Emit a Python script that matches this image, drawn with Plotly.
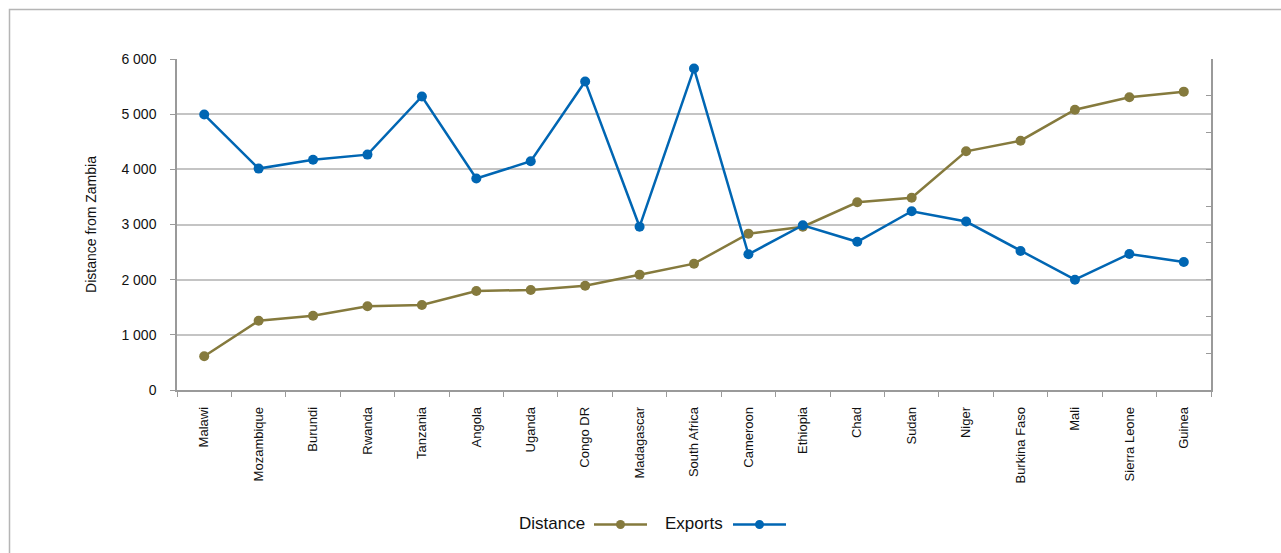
import plotly.graph_objects as go

# Countries ordered by distance from Zambia
countries = ["Malawi", "Mozambique", "Burundi", "Rwanda", "Tanzania", "Angola",
             "Uganda", "Congo DR", "Madagascar", "South Africa", "Cameroon",
             "Ethiopia", "Chad", "Sudan", "Niger", "Burkina Faso", "Mali",
             "Sierra Leone", "Guinea"]

# Distance from Zambia (km), left axis
distance = [611, 1256, 1347, 1517, 1541, 1795, 1813, 1891, 2091, 2290,
            2834, 2960, 3402, 3486, 4327, 4519, 5081, 5306, 5408]

# Exports (secondary axis, unlabeled scale 0-9)
exports = [7.49, 6.02, 6.26, 6.40, 7.98, 5.75, 6.22, 8.39, 4.44, 8.74,
           3.69, 4.48, 4.03, 4.86, 4.58, 3.78, 3.00, 3.70, 3.48]

y_ticks = [0, 1000, 2000, 3000, 4000, 5000, 6000]
y_tick_text = ["0", "1 000", "2 000", "3 000", "4 000", "5 000", "6 000"]

OLIVE = "#857a3d"
BLUE = "#0066b3"
GRID = "#c4c4c4"
AXIS = "#9a9a9a"
FONT = "Liberation Sans, Arial, sans-serif"

fig = go.Figure()
fig.add_trace(go.Scatter(
    x=countries, y=distance, name="Distance", mode="lines+markers",
    line=dict(color=OLIVE, width=2.5), marker=dict(color=OLIVE, size=10),
    showlegend=False, cliponaxis=False,
))
fig.add_trace(go.Scatter(
    x=countries, y=exports, name="Exports", mode="lines+markers", yaxis="y2",
    line=dict(color=BLUE, width=2.5), marker=dict(color=BLUE, size=10),
    showlegend=False, cliponaxis=False,
))

L, R, T, B = 177, 70, 59, 163
W, H = 1281, 553
pw, ph = W - L - R, H - T - B


def px(x):
    return (x - L) / pw


def py(y):
    return (H - B - y) / ph


shapes = [
    # outer chart border
    dict(type="rect", xref="paper", yref="paper",
         x0=px(9.5), x1=px(1290), y0=py(9.5), y1=py(600),
         line=dict(color="#b5b5b5", width=1.5), layer="below"),
]
annotations = []

# Legend: label text followed by line+marker sample
legend_items = [("Distance", OLIVE, 587, 594, 647), ("Exports", BLUE, 725, 733, 786)]
for label, color, text_right, l0, l1 in legend_items:
    annotations.append(dict(
        xref="paper", yref="paper", x=px(text_right), y=py(523),
        text=label, showarrow=False, xanchor="right", yanchor="middle",
        font=dict(family=FONT, size=17, color="#111111"),
    ))
    shapes.append(dict(type="line", xref="paper", yref="paper",
                       x0=px(l0), x1=px(l1), y0=py(524.5), y1=py(524.5),
                       line=dict(color=color, width=2.5)))
    cx = (l0 + l1) / 2
    shapes.append(dict(type="circle", xref="paper", yref="paper",
                       x0=px(cx - 4.5), x1=px(cx + 4.5),
                       y0=py(529), y1=py(520),
                       fillcolor=color, line=dict(color=color, width=0)))

fig.update_layout(
    width=W, height=H,
    margin=dict(l=L, r=R, t=T, b=B, autoexpand=False),
    paper_bgcolor="white", plot_bgcolor="white",
    font=dict(family=FONT, size=14, color="#111111"),
    showlegend=False,
    shapes=shapes, annotations=annotations,
    xaxis=dict(
        type="category", tickangle=-90, tickson="boundaries",
        ticks="outside", ticklen=5, tickcolor=AXIS, tickwidth=1.2,
        showline=True, linecolor=AXIS, linewidth=1.5,
        showgrid=False, ticklabelstandoff=10,
        tickfont=dict(family=FONT, size=13),
        range=[-0.5, len(countries) - 0.5],
    ),
    yaxis=dict(
        range=[0, 6000], tickvals=y_ticks, ticktext=y_tick_text,
        ticks="outside", ticklen=5, tickcolor=AXIS, tickwidth=1.2,
        showline=True, linecolor=AXIS, linewidth=1.5,
        showgrid=True, gridcolor=GRID, gridwidth=1.5,
        zeroline=False, ticklabelstandoff=11,
        tickfont=dict(family=FONT, size=14),
        title=dict(text="Distance from Zambia", standoff=22,
                   font=dict(family=FONT, size=14)),
    ),
    yaxis2=dict(
        range=[0, 9], dtick=1, overlaying="y", side="right",
        showticklabels=False, ticks="inside", ticklen=5,
        tickcolor=AXIS, tickwidth=1.2,
        showline=True, linecolor=AXIS, linewidth=1.5,
        showgrid=False, zeroline=False,
    ),
)

fig.write_html("out.html")
